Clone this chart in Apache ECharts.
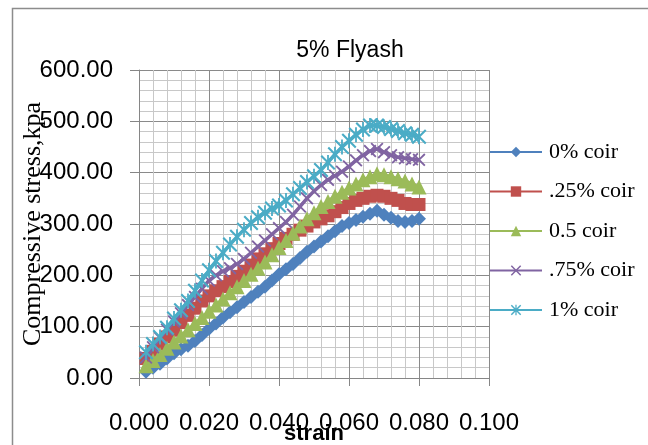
<!DOCTYPE html>
<html>
<head>
<meta charset="utf-8">
<script src="https://cdn.jsdelivr.net/npm/echarts@6/dist/echarts.min.js"></script>
<style>
html,body{margin:0;padding:0;background:#fff;}
#chart{width:648px;height:445px;}
</style>
</head>
<body>
<div id="chart"></div>
<script>
const strain = [0.002,0.004,0.006,0.008,0.010,0.012,0.014,0.016,0.018,0.020,
  0.022,0.024,0.026,0.028,0.030,0.032,0.034,0.036,0.038,0.040,
  0.042,0.044,0.046,0.048,0.050,0.052,0.054,0.056,0.058,0.060,
  0.062,0.064,0.066,0.068,0.070,0.072,0.074,0.076,0.078,0.080];

const coir0 = [12,20,28,38,48,56,63,72,84,96,106,118,128,138,148,158,168,178,190,202,
  212,222,234,246,256,266,276,286,296,302,308,314,320,326,318,312,306,304,306,310];
const coir025 = [38,52,66,80,93,108,122,136,150,160,170,178,188,198,208,220,232,242,252,262,
  272,280,288,296,304,310,316,324,332,340,346,350,354,356,354,350,346,340,338,338];
const coir05 = [24,34,46,58,70,82,94,106,118,130,142,154,166,178,190,202,214,226,240,254,
  268,282,296,310,322,334,344,354,362,370,378,386,392,398,396,392,388,384,378,372];
const coir075 = [40,60,78,94,110,126,142,158,174,190,200,208,214,222,232,244,256,268,280,292,
  304,318,334,350,364,376,386,394,402,412,424,434,442,446,440,434,430,428,426,425];
const coir1 = [50,66,80,98,116,132,150,170,190,210,228,244,260,275,289,302,313,322,330,336,
  346,358,370,382,393,405,420,436,450,462,474,484,492,492,489,485,481,477,474,470];

const seriesNames = ['0% coir', '.25% coir', '0.5 coir', '.75% coir', '1% coir'];
const xTicks = [0, 0.02, 0.04, 0.06, 0.08, 0.1];
const yTicks = [0, 100, 200, 300, 400, 500, 600];

const colors = ['#4F81BD', '#C0504D', '#9BBB59', '#8064A2', '#4BACC6'];
const xPath = 'path://M0,1L1,0L5,4L9,0L10,1L6,5L10,9L9,10L5,6L1,10L0,9L4,5Z';
const starPath = 'path://M0,1L1,0L5,4L9,0L10,1L6,5L10,9L9,10L5,6L1,10L0,9L4,5ZM4.4,0L5.6,0L5.6,10L4.4,10Z';
const symbols = ['diamond', 'rect', 'triangle', xPath, starPath];
const sizes = [14, 13, 15, 13, 15];
const allData = [coir0, coir025, coir05, coir075, coir1];

function pairs(arr){ return arr.map((v,i)=>[strain[i], v]); }

const chart = echarts.init(document.getElementById('chart'), null, {renderer:'canvas'});
const axisGray = '#868686';
const option = {
  backgroundColor: '#ffffff',
  animation: false,
  color: colors,
  grid: {left:139, top:70, width:350, height:308, containLabel:false, outerBoundsMode:'none'},
  graphic: [
    {type:'rect', shape:{x:12.5, y:8.5, width:700, height:500}, style:{fill:'none', stroke:'#8c8c8c', lineWidth:1.5}, silent:true, z:-1},
    {type:'text', x:350, y:51, style:{text:'5% Flyash', fontFamily:'Liberation Sans', fontSize:23, fill:'#000', textAlign:'center', textVerticalAlign:'middle'}}
  ],
  xAxis: {
    type:'value', min:0, max:0.1, interval:0.02,
    name:'strain', nameLocation:'middle', nameGap:45, nameMoveOverlap:false,
    nameTextStyle:{fontFamily:'Liberation Sans', fontWeight:'bold', fontSize:22, color:'#000'},
    axisLine:{show:true, lineStyle:{color:axisGray, width:1}},
    axisTick:{show:true, inside:false, length:8, lineStyle:{color:axisGray}},
    axisLabel:{margin:33, fontFamily:'Liberation Sans', fontSize:24, color:'#000',
      formatter:(v)=>v.toFixed(3)},
    splitLine:{show:true, lineStyle:{color:'#8a8a8a', width:1}},
    minorTick:{show:false, splitNumber:5},
    minorSplitLine:{show:true, lineStyle:{color:'#c8c8c8', width:1}}
  },
  yAxis: {
    type:'value', min:0, max:600, interval:100,
    name:'Compressive stress,kpa', nameLocation:'middle', nameGap:93, nameMoveOverlap:false,
    nameTextStyle:{fontFamily:'Liberation Serif', fontSize:26, color:'#000'},
    axisLine:{show:true, lineStyle:{color:axisGray, width:1}},
    axisTick:{show:true, inside:false, length:9, lineStyle:{color:axisGray}},
    axisLabel:{margin:26, fontFamily:'Liberation Sans', fontSize:24, color:'#000',
      formatter:(v)=>v.toFixed(2)},
    splitLine:{show:true, lineStyle:{color:'#8a8a8a', width:1}},
    minorTick:{show:false, splitNumber:5},
    minorSplitLine:{show:true, lineStyle:{color:'#c8c8c8', width:1}}
  },
  legend: {
    orient:'vertical', left:489, top:141, padding:0,
    itemWidth:52, itemHeight:13, itemGap:17.5,
    textStyle:{fontFamily:'Liberation Serif', fontSize:22, color:'#000', lineHeight:22, padding:[0,0,0,2]},
    data: seriesNames
  },
  series: allData.map((arr, i) => ({
    name: seriesNames[i],
    type: 'line',
    data: pairs(arr),
    symbol: symbols[i],
    symbolSize: sizes[i],
    showAllSymbol: true,
    lineStyle: {color: colors[i], width: 3.5},
    itemStyle: {color: colors[i]},
    z: 2 + i
  }))
};
chart.setOption(option);
</script>
</body>
</html>
